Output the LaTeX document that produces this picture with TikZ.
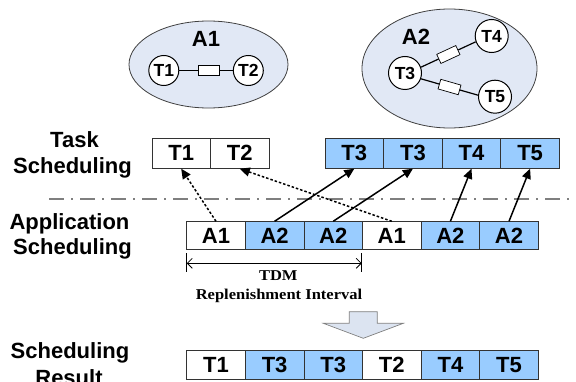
\documentclass[tikz,border=0pt]{standalone}
\usepackage{fontspec}
\usepackage{graphicx}
\setmainfont{Liberation Sans}
\newfontfamily\serifbf{Liberation Serif}
\usetikzlibrary{shapes.geometric,arrows.meta}

\definecolor{slotblue}{HTML}{99CCFF}
\definecolor{appfill}{HTML}{E1E8F5}
\definecolor{arrowfill}{HTML}{DCE4F1}
\definecolor{rimgray}{HTML}{404040}
\definecolor{sepgray}{HTML}{7F7F7F}

\newcommand\bfsize[1]{\fontsize{#1}{#1}\selectfont\bfseries}

\begin{document}
\begin{tikzpicture}[x=1pt,y=-1pt,
  slot/.style={draw=black!80, line width=0.8pt, minimum width=58.6pt, inner sep=0pt, font=\bfsize{22}},
  hi/.style={fill=slotblue},
  lo/.style={fill=white},
  taskrow/.style={minimum height=30pt},
  approw/.style={minimum height=27.6pt},
  resrow/.style={minimum height=28.6pt},
  appcloud/.style={ellipse, draw=rimgray, line width=0.8pt, fill=appfill, inner sep=0pt},
  task/.style={circle, draw=black, line width=1pt, fill=white, inner sep=0pt, font=\bfsize{17.5}},
  link/.style={line width=1.2pt},
  linkbox/.style={draw=black, line width=0.7pt, fill=white, minimum width=21pt, minimum height=10pt, inner sep=0pt},
  rowlabel/.style={anchor=base, font=\bfsize{22}},
  maps/.style={line width=1.5pt, -{Triangle[length=10pt,width=9pt]}},
  spare/.style={maps, dash pattern=on 2.5pt off 2pt},
  dimline/.style={line width=0.8pt, {Straight Barb[length=5pt,width=10pt]}-{Straight Barb[length=5pt,width=10pt]}},
  dimtext/.style={anchor=base, font=\serifbf\bfsize{15}}
]
\useasboundingbox (0,0) rectangle (576,382);

% applications with their task graphs
\node[appcloud, minimum width=159pt, minimum height=87pt] (appA) at (208.5,64.5) {};
\node[appcloud, minimum width=175pt, minimum height=119pt] (appB) at (449.5,68.5) {};
\node[anchor=base, font=\bfsize{22}] (nameA) at (206,46.5) {A1};
\node[anchor=base, font=\bfsize{22}] (nameB) at (416,45) {A2};

\node[task, minimum size=30pt] (T1) at (163.8,70.5) {T1};
\node[task, minimum size=30pt] (T2) at (248.3,70.5) {T2};
\node[task, minimum size=33pt] (T3) at (405,73) {T3};
\node[task, minimum size=33pt] (T4) at (491.7,36) {T4};
\node[task, minimum size=33pt] (T5) at (495,96.7) {T5};

\draw[link] (T1) -- node[linkbox, pos=0.55] {} (T2);
\draw[link] (T3.20) -- node[linkbox, sloped] {} (T4.200);
\draw[link] (T3.-20) -- node[linkbox, sloped] {} (T5.175);

% row labels
\node[rowlabel] (lt1) at (74.5,147.3) {Task};
\node[rowlabel] (lt2) at (72.5,173.3) {Scheduling};
\node[rowlabel] (la1) at (69.5,230) {Application};
\node[rowlabel] (la2) at (72.5,255) {Scheduling};
\node[rowlabel] (lr1) at (70,358.3) {Scheduling};
\node[rowlabel] (lr2) at (69,385) {Result};

% separator between the two scheduling levels
\coordinate (sepL) at (49,199);
\coordinate (sepR) at (576,199);
\draw[sepgray, line width=2pt, dash pattern=on 15pt off 7pt on 2pt off 7pt] (sepL) -- (sepR);

% task scheduling row
\node[slot, taskrow, lo] (s1) at (181.2,153.3) {T1};
\node[slot, taskrow, lo] (s2) at (239.8,153.3) {T2};
\node[slot, taskrow, hi] (s3) at (354.3,153.3) {T3};
\node[slot, taskrow, hi] (s4) at (412.9,153.3) {T3};
\node[slot, taskrow, hi] (s5) at (471.5,153.3) {T4};
\node[slot, taskrow, hi] (s6) at (530.1,153.3) {T5};

% application scheduling row
\node[slot, approw, lo] (p1) at (216.0,235.5) {A1};
\node[slot, approw, hi] (p2) at (274.6,235.5) {A2};
\node[slot, approw, hi] (p3) at (333.2,235.5) {A2};
\node[slot, approw, lo] (p4) at (391.8,235.5) {A1};
\node[slot, approw, hi] (p5) at (450.4,235.5) {A2};
\node[slot, approw, hi] (p6) at (509.0,235.5) {A2};

% slots handed to tasks
\draw[spare] (p1.north) -- (s1.south);
\draw[spare] (p4.north) -- (s2.south);
\draw[maps] (p2.north) -- (s3.south);
\draw[maps] (p3.north) -- (s4.south);
\draw[maps] (p5.north) -- (s5.south);
\draw[maps] (p6.north) -- (s6.south);

% replenishment interval
\coordinate (dl) at (186.7,263.3);
\coordinate (dr) at (361.7,263.3);
\coordinate (dlt) at (186.7,253.3);
\coordinate (dlb) at (186.7,271.7);
\coordinate (drt) at (361.7,253.3);
\coordinate (drb) at (361.7,271.7);
\draw[line width=0.8pt] (dlt) -- (dlb);
\draw[line width=0.8pt] (drt) -- (drb);
\draw[dimline] (dl) -- (dr);
\node[dimtext] (tdm) at (278.3,280) {\scalebox{1.1}[1]{TDM}};
\node[dimtext] (rint) at (279,300) {\scalebox{1.1}[1]{Replenishment Interval}};

% block arrow towards the result
\draw[draw=sepgray, line width=0.7pt, fill=arrowfill]
  (349.3,311.7) -- (377.3,311.7) -- (377.3,323.3) -- (403.3,323.3)
  -- (363.3,338.3) -- (323.3,323.3) -- (349.3,323.3) -- cycle;

% resulting schedule
\node[slot, resrow, lo] (r1) at (216.0,365) {T1};
\node[slot, resrow, hi] (r2) at (274.6,365) {T3};
\node[slot, resrow, hi] (r3) at (333.2,365) {T3};
\node[slot, resrow, lo] (r4) at (391.8,365) {T2};
\node[slot, resrow, hi] (r5) at (450.4,365) {T4};
\node[slot, resrow, hi] (r6) at (509.0,365) {T5};
\end{tikzpicture}
\end{document}
